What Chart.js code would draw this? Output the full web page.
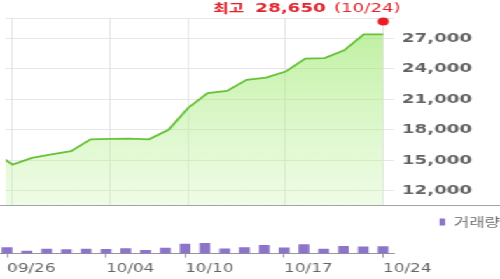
<!DOCTYPE html>
<html>
<head>
<meta charset="utf-8">
<script src="https://cdn.jsdelivr.net/npm/chart.js@4.4.0/dist/chart.umd.min.js"></script>
<style>
  html, body { margin: 0; padding: 0; background: #fff; overflow: hidden; }
  /* chart is drawn narrow and stretched sideways, like the source image */
  #wrap { position: absolute; left: 0; top: 0; width: 357px; height: 279px; overflow: hidden; transform: scaleX(1.40056); transform-origin: 0 0; }
  #priceChart { position: absolute; left: 0; top: 0; }
  #volumeChart { position: absolute; left: 0; top: 208px; }
</style>
</head>
<body>
<div id="wrap">
  <canvas id="priceChart" width="357" height="209"></canvas>
  <canvas id="volumeChart" width="357" height="73"></canvas>
</div>
<script>
// trading days (the first one sits just off the left edge)
const dates = ['09/23', '09/26', '09/27', '09/28', '09/29', '09/30', '10/04', '10/05', '10/06', '10/07',
  '10/10', '10/11', '10/12', '10/13', '10/14', '10/17', '10/18', '10/19', '10/20', '10/21', '10/24'];
const prices = [15850, 14570, 15230, 15570, 15900, 17060, 17100, 17130, 17060, 18000,
  20150, 21600, 21820, 22910, 23140, 23730, 25000, 25060, 25820, 27380, 27380];
const volumes = [700000, 800000, 330000, 600000, 530000, 600000, 570000, 670000, 430000, 730000,
  1270000, 1370000, 630000, 800000, 1130000, 770000, 1200000, 600000, 970000, 900000, 930000];
const tickDates = ['09/26', '10/04', '10/10', '10/17', '10/24'];
const priceTicks = [12000, 15000, 18000, 21000, 24000, 27000];
const highPrice = 28650;
const highDate = '10/24';

const tickIndex = tickDates.map(d => dates.indexOf(d));
const xMin = 0.646;
const xMax = 20.53;

// red "최고" label next to the high point
const highLabel = {
  id: 'highLabel',
  afterDatasetsDraw(chart) {
    const pt = chart.getDatasetMeta(1).data[0];
    const ctx = chart.ctx;
    ctx.save();
    ctx.fillStyle = '#e0232b';
    ctx.textBaseline = 'middle';
    ctx.textAlign = 'right';
    const y = pt.y - 13;
    let x = pt.x + 12.5;
    const dateText = '(' + highDate + ')';
    ctx.font = '13px "DejaVu Sans"';
    ctx.fillText(dateText, x, y);
    x -= ctx.measureText(dateText).width + 6;
    const priceText = highPrice.toLocaleString('en-US');
    ctx.font = 'bold 13px "DejaVu Sans"';
    ctx.fillText(priceText, x, y);
    x -= ctx.measureText(priceText).width + 8;
    ctx.font = 'bold 12px "Noto Sans CJK KR"';
    ctx.fillText('최고', x, y);
    ctx.restore();
  }
};

// bottom rule of the price panel runs the full width
const baseLine = {
  id: 'baseLine',
  afterDraw(chart) {
    const ctx = chart.ctx;
    const y = Math.round(chart.chartArea.bottom) + 0.5;
    ctx.save();
    ctx.strokeStyle = '#a3a3a3';
    ctx.lineWidth = 1;
    ctx.beginPath();
    ctx.moveTo(0, y);
    ctx.lineTo(chart.width, y);
    ctx.stroke();
    ctx.restore();
  }
};

const priceCtx = document.getElementById('priceChart').getContext('2d');
const priceChart = new Chart(priceCtx, {
  type: 'line',
  data: {
    datasets: [{
      data: prices.map((p, i) => ({ x: i, y: p })),
      borderColor: '#67c237',
      borderWidth: 1.8,
      pointRadius: 0,
      tension: 0,
      fill: 'start',
      backgroundColor: c => {
        const area = c.chart.chartArea;
        if (!area) return 'rgba(150,230,100,0.5)';
        const g = c.chart.ctx.createLinearGradient(0, area.top, 0, area.bottom);
        g.addColorStop(0, 'rgba(150,230,100,0.65)');
        g.addColorStop(1, 'rgba(200,245,170,0.3)');
        return g;
      }
    }, {
      data: [{ x: dates.indexOf(highDate), y: highPrice }],
      showLine: false,
      pointRadius: 4,
      pointBorderWidth: 0,
      pointBackgroundColor: '#ec1c24',
      clip: false
    }]
  },
  options: {
    responsive: false,
    animation: false,
    layout: { padding: { top: 18, bottom: 1 } },
    plugins: { legend: { display: false }, tooltip: { enabled: false } },
    scales: {
      x: {
        type: 'linear',
        min: xMin,
        max: xMax,
        offset: false,
        afterBuildTicks: s => { s.ticks = tickIndex.map(v => ({ value: v })); },
        afterFit: s => { s.height = 0; },
        ticks: { display: false },
        grid: { color: '#e6e6e6', drawTicks: false },
        border: { display: false }
      },
      y: {
        position: 'right',
        min: 10600,
        max: 29000,
        afterBuildTicks: s => { s.ticks = priceTicks.concat(29000).map(v => ({ value: v })); },
        afterFit: s => { s.width = 76; s.paddingTop = 0; s.paddingBottom = 0; },
        ticks: {
          padding: 6,
          color: '#646464',
          font: { family: 'DejaVu Sans', size: 13, weight: 'bold' },
          callback: v => priceTicks.includes(v) ? v.toLocaleString('en-US') : ''
        },
        grid: { color: '#e6e6e6', drawTicks: false },
        border: { display: false }
      }
    }
  },
  plugins: [highLabel, baseLine]
});

const volCtx = document.getElementById('volumeChart').getContext('2d');
const volumeChart = new Chart(volCtx, {
  type: 'bar',
  data: {
    datasets: [{
      label: '거래량',
      data: volumes.map((v, i) => ({ x: i, y: v })),
      backgroundColor: '#8c74c8',
      barThickness: 7
    }]
  },
  options: {
    responsive: false,
    animation: false,
    layout: { padding: { top: 8, bottom: 1 } },
    plugins: {
      legend: {
        position: 'top',
        align: 'end',
        labels: {
          boxWidth: 4,
          boxHeight: 7,
          padding: 0,
          color: '#666',
          font: { family: 'Noto Sans CJK KR', size: 12 }
        }
      },
      tooltip: { enabled: false }
    },
    scales: {
      x: {
        type: 'linear',
        min: xMin,
        max: xMax,
        offset: false,
        afterBuildTicks: s => { s.ticks = tickIndex.map(v => ({ value: v })); },
        ticks: {
          align: 'start',
          padding: 4,
          autoSkip: false,
          maxRotation: 0,
          color: '#666',
          font: { family: 'DejaVu Sans', size: 12 },
          callback: v => dates[v]
        },
        grid: { offset: false, drawOnChartArea: false, tickLength: 4, color: '#999' },
        border: { color: '#999' }
      },
      y: {
        position: 'right',
        min: 0,
        max: 2100000,
        afterFit: s => { s.width = 76; },
        ticks: { display: false },
        grid: { display: false },
        border: { display: false }
      }
    }
  }
});
</script>
</body>
</html>
